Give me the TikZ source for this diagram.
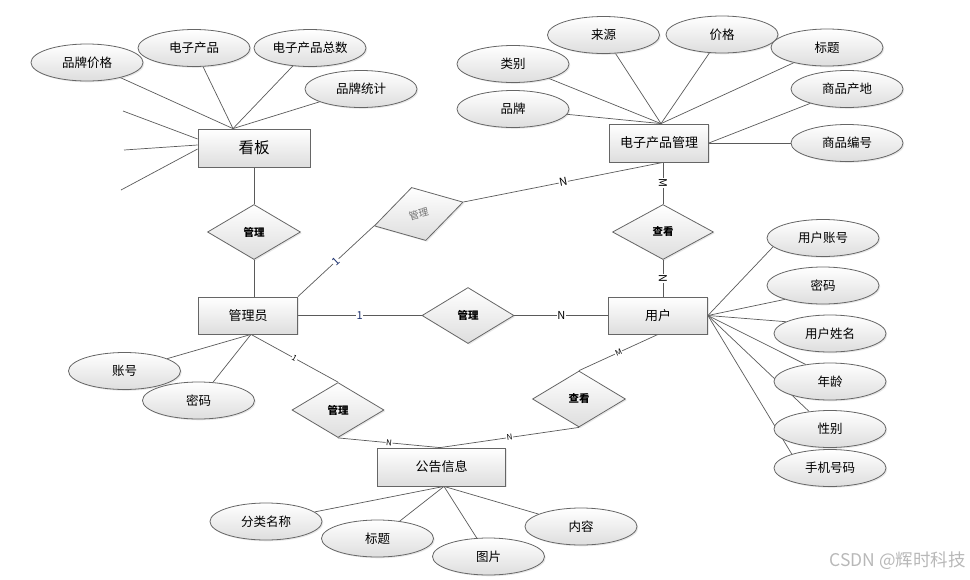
\documentclass[tikz,border=0pt]{standalone}
\usepackage{fontspec}
\setmainfont{Noto Sans CJK SC}
\usepackage{xcolor}
\usetikzlibrary{positioning,calc,shapes.geometric,shadows,backgrounds}
\definecolor{edgegray}{RGB}{90,90,90}
\definecolor{onenavy}{RGB}{30,50,110}
\tikzset{
	shapebase/.style={draw=black!60, line width=0.8pt, top color=white, bottom color=black!13, inner sep=0pt,
		drop shadow={opacity=0.18, shadow xshift=1.3pt, shadow yshift=-1.3pt}},
	ent/.style={shapebase, rectangle, minimum width=99pt, minimum height=37pt, font=\fontsize{13}{15}\selectfont},
	attr/.style={shapebase, ellipse, minimum width=112pt, minimum height=37pt, font=\fontsize{12.5}{15}\selectfont},
	rel/.style={shapebase, diamond, minimum width=93pt, minimum height=55pt, font=\fontsize{10.5}{12}\selectfont\bfseries},
	link/.style={draw=edgegray, line width=0.7pt},
	card/.style={fill=white, inner sep=0.6pt, sloped, font=\fontsize{11}{12}\selectfont},
	cardsm/.style={card, font=\fontsize{8}{9}\selectfont}
}
\begin{document}
\begin{tikzpicture}[x=1pt,y=-1pt]
	\useasboundingbox (0,0) rectangle (970,579);
	% entities
	\node[ent, minimum width=112pt, minimum height=38pt, font=\fontsize{15.5}{17}\selectfont] (board) at (254,148) {看板};
	\node[ent, minimum height=38pt] (prod) at (659,143) {电子产品管理};
	\node[ent] (admin) at (248,315.5) {管理员};
	\node[ent] (user) at (658,315.5) {用户};
	\node[ent, minimum width=128pt, minimum height=38pt] (notice) at (441.5,467) {公告信息};
	% relations
	\node[rel] (mgrboard) at (254,232) {管理};
	\node[rel, rotate=15, minimum width=92pt, font=\fontsize{10}{12}\selectfont\color{black!55}] (mgrprod) at (418.7,214) {管理};
	\node[rel, minimum width=92pt, minimum height=56pt] (mgruser) at (468,315.5) {管理};
	\node[rel, minimum width=101pt] (viewprod) at (663,232) {查看};
	\node[rel, minimum width=92pt] (mgrnotice) at (338,410) {管理};
	\node[rel, minimum height=56pt] (viewnotice) at (579,399) {查看};
	% attributes
	\node[attr] (brandprice) at (87,62.5) {品牌价格};
	\node[attr] (eprod) at (194,48) {电子产品};
	\node[attr] (eprodsum) at (310,48) {电子产品总数};
	\node[attr] (brandstat) at (361,89) {品牌统计};
	\node[attr] (kind) at (513,64) {类别};
	\node[attr] (source) at (603.5,35) {来源};
	\node[attr] (price) at (722,34.5) {价格};
	\node[attr] (ptitle) at (827,47.5) {标题};
	\node[attr] (brand) at (513,109) {品牌};
	\node[attr] (origin) at (847,89) {商品产地};
	\node[attr] (pno) at (847,143) {商品编号};
	\node[attr] (uacc) at (823,238) {用户账号};
	\node[attr] (upwd) at (823,285.5) {密码};
	\node[attr] (uname) at (830,333.5) {用户姓名};
	\node[attr] (uage) at (830,381.5) {年龄};
	\node[attr] (usex) at (830,429) {性别};
	\node[attr] (utel) at (830,468) {手机号码};
	\node[attr] (aacc) at (124.5,371) {账号};
	\node[attr] (apwd) at (198.5,400.5) {密码};
	\node[attr] (nkind) at (266,521.5) {分类名称};
	\node[attr] (ntitle) at (377.5,538.5) {标题};
	\node[attr] (npic) at (488.5,556.5) {图片};
	\node[attr] (ntext) at (581,526.5) {内容};
	\node[text=black!28, font=\fontsize{17.5}{19}\selectfont, anchor=east, inner sep=0pt] (mark) at (966,561) {CSDN @辉时科技};
	% connectors
	\coordinate (btop) at ($(board.north)+(-21,0)$);
	\coordinate (loose1) at (123,111);
	\coordinate (loose2) at (124,150);
	\coordinate (loose3) at (121,190);
	\coordinate (ptop) at ($(prod.north)+(2,0)$);
	\coordinate (abot) at ($(admin.south)+(3,0)$);
	\coordinate (nbot) at ($(notice.south)+(2.5,0)$);
	\coordinate (ntop) at ($(notice.north)+(-1.5,0)$);
	\begin{scope}[on background layer]
		\foreach \a in {brandprice,eprod,eprodsum,brandstat} \draw[link] (\a) -- (btop);
		\draw[link] (loose1) -- ([yshift=9pt]board.west);
		\draw[link] (loose2) -- ([yshift=3pt]board.west);
		\draw[link] (loose3) -- ([yshift=-1pt]board.west);
		\foreach \a in {kind,source,price,ptitle,brand} \draw[link] (\a) -- (ptop);
		\foreach \a in {origin,pno} \draw[link] (\a) -- (prod.east);
		\foreach \a/\ang in {uacc/190,upwd/200,uname/165,uage/145,usex/140,utel/160} \draw[link] (\a.\ang) -- (user.east);
		\foreach \a in {aacc,apwd} \draw[link] (\a) -- (abot);
		\foreach \a in {nkind,ntitle,npic,ntext} \draw[link] (\a) -- (nbot);
		\draw[link] (board.south) -- (mgrboard.north);
		\draw[link] (mgrboard.south) -- (mgrboard.south |- admin.north);
		\draw[link] (admin.north east) -- node[card, text=onenavy] {1} (mgrprod.west);
		\draw[link] (mgrprod.east) -- node[card] {N} (prod.south -| viewprod.north);
		\draw[link] (prod.south -| viewprod.north) -- node[card] {M} (viewprod.north);
		\draw[link] (viewprod.south) -- node[card] {N} (user.north -| viewprod.south);
		\draw[link] (admin.east) -- node[card, text=onenavy] {1} (mgruser.west);
		\draw[link] (mgruser.east) -- node[card] {N} (user.west);
		\draw[link] (abot) -- node[cardsm] {1} (mgrnotice.north);
		\draw[link] (mgrnotice.south) -- node[cardsm] {N} (ntop);
		\draw[link] (viewnotice.south) -- node[cardsm] {N} (ntop);
		\draw[link] (viewnotice.north) -- node[cardsm] {M} (user.south);
	\end{scope}
\end{tikzpicture}
\end{document}
